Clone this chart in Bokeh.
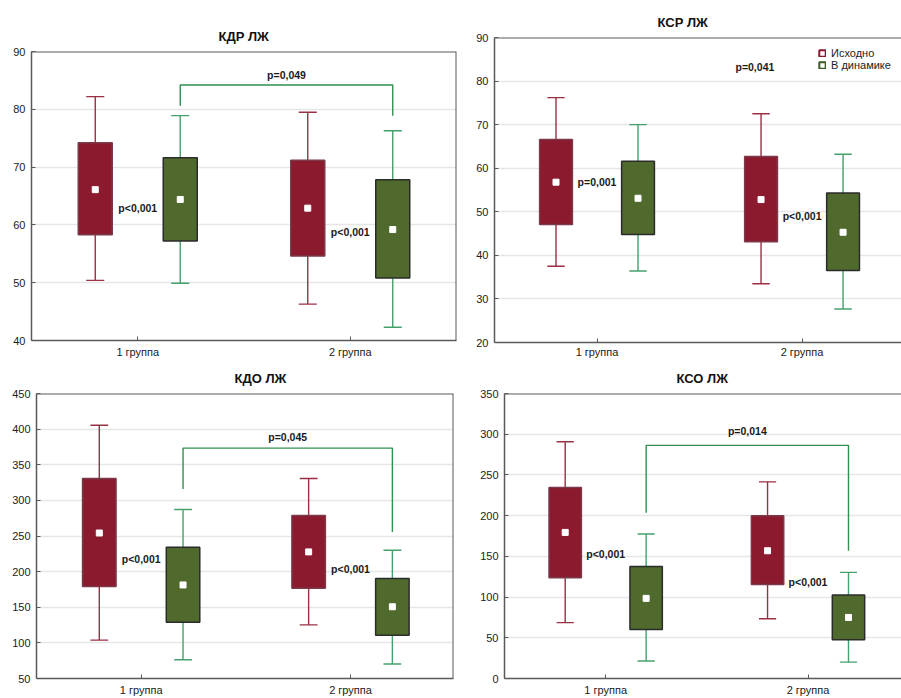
from bokeh.plotting import figure
from bokeh.models import Range1d, FixedTicker, Legend, LegendItem, Span
from bokeh.layouts import column, row
from bokeh.embed import file_html
from bokeh.resources import INLINE
from bokeh.core.properties import value

groups = ["1 группа", "2 группа"]
series = ["Исходно", "В динамике"]

# each group: [lower whisker, box low, mean, box high, upper whisker]
kdr_base = [[50.4, 58.3, 66.1, 74.2, 82.2], [46.3, 54.6, 62.9, 71.2, 79.5]]
kdr_dyn = [[49.9, 57.2, 64.4, 71.6, 78.9], [42.3, 50.8, 59.2, 67.8, 76.3]]
ksr_base = [[37.5, 47.1, 56.8, 66.6, 76.2], [33.5, 43.1, 52.8, 62.7, 72.5]]
ksr_dyn = [[36.4, 44.8, 53.1, 61.6, 70.0], [27.7, 36.5, 45.3, 54.3, 63.2]]
kdo_base = [[103.8, 179.0, 254.2, 330.7, 405.5], [125.2, 176.7, 227.7, 278.8, 330.7]]
kdo_dyn = [[76.4, 128.9, 181.3, 234.2, 287.1], [70.4, 110.8, 150.7, 190.2, 230.0]]
kso_base = [[68.6, 123.8, 179.4, 234.7, 290.7], [73.4, 115.3, 156.9, 200.0, 241.5]]
kso_dyn = [[21.4, 60.1, 98.4, 137.5, 177.4], [20.1, 47.6, 75.0, 102.4, 130.3]]

# within-group p-values and their heights
kdr_within = ["p<0,001", "p<0,001"]
kdr_within_y = [63.0, 58.7]
ksr_within = ["p=0,001", "p<0,001"]
ksr_within_y = [56.9, 49.0]
kdo_within = ["p<0,001", "p<0,001"]
kdo_within_y = [218, 204]
kso_within = ["p<0,001", "p<0,001"]
kso_within_y = [153.2, 118.2]

# between-group comparison: label, label height, bracket [left end, top, right end]
kdr_between = "p=0,049"
kdr_between_y = 86.0
kdr_bracket = [80.6, 84.2, 78.9]
ksr_between = "p=0,041"
ksr_between_y = 83.2
ksr_bracket = None
kdo_between = "p=0,045"
kdo_between_y = 389.2
kdo_bracket = [315.9, 373.4, 255.6]
kso_between = "p=0,014"
kso_between_y = 304.0
kso_bracket = [203.7, 286.3, 156.9]

FONT = "Liberation Sans"
RED = "#8B1A2F"
RED_LINE = "#7a3a4a"
RED_WHISK = "#9b2f44"
GREEN = "#506A2E"
GREEN_LINE = "#2b2b2b"
GREEN_WHISK = "#45a06c"
BRACKET = "#2f9050"
AXIS = "#5a5a5a"


def panel(title, base, dyn, yr, ystep, within, within_y, between, between_y, between_x,
          bracket, width, height, left, top, bottom, span, title_off,
          right_edge, x_standoff, legend=False):
    p = figure(width=width, height=height, x_range=Range1d(0, span), y_range=Range1d(*yr),
               output_backend="svg", toolbar_location=None,
               min_border_left=left, min_border_right=1 if right_edge else 0,
               min_border_top=top, min_border_bottom=bottom)
    p.frame_align = False
    p.background_fill_color = "white"
    p.border_fill_color = "white"
    p.xgrid.visible = False
    p.ygrid.grid_line_color = "#e6e6e6"
    p.ygrid.grid_line_width = 1.5
    p.outline_line_color = None

    p.title.text = title
    p.title.align = "left"
    p.title.offset = title_off
    p.title.standoff = 16
    p.title.text_font = FONT
    p.title.text_font_size = "13px"
    p.title.text_font_style = "bold"
    p.title.text_color = "#111111"

    gx = [i + 0.5 for i in range(len(groups))]
    yt = list(range(yr[0], yr[1] + 1, ystep))

    p.xaxis.ticker = FixedTicker(ticks=gx)
    p.xaxis.major_label_overrides = {g: groups[i] for i, g in enumerate(gx)}
    p.yaxis.ticker = FixedTicker(ticks=yt)
    for ax in (p.xaxis[0], p.yaxis[0]):
        ax.axis_line_color = AXIS
        ax.axis_line_width = 1.5
        ax.major_tick_line_color = AXIS
        ax.major_tick_in = 4
        ax.major_tick_out = 0
        ax.minor_tick_line_color = None
        ax.major_label_text_font = FONT
        ax.major_label_text_font_size = "11px"
        ax.major_label_text_color = "#222222"
    p.yaxis.major_label_standoff = 6
    p.xaxis.major_label_standoff = x_standoff

    p.add_layout(Span(location=yr[1], dimension="width", line_color=AXIS, line_width=2))
    if right_edge:
        p.add_layout(Span(location=span, dimension="height", line_color=AXIS, line_width=2))

    off = 0.2
    bw = 0.16
    cw = 0.085
    for data, dx, fill, line, wc in ((base, -off, RED, RED_LINE, RED_WHISK),
                                     (dyn, off, GREEN, GREEN_LINE, GREEN_WHISK)):
        xs = [g + dx for g in gx]
        lo = [d[0] for d in data]
        q1 = [d[1] for d in data]
        mn = [d[2] for d in data]
        q3 = [d[3] for d in data]
        hi = [d[4] for d in data]
        p.segment(x0=xs, y0=lo, x1=xs, y1=hi, line_color=wc, line_width=1.4)
        p.segment(x0=[x - cw / 2 for x in xs], y0=lo, x1=[x + cw / 2 for x in xs], y1=lo,
                  line_color=wc, line_width=1.4)
        p.segment(x0=[x - cw / 2 for x in xs], y0=hi, x1=[x + cw / 2 for x in xs], y1=hi,
                  line_color=wc, line_width=1.4)
        p.vbar(x=xs, width=bw, bottom=q1, top=q3, fill_color=fill, line_color=line,
               line_width=1.5)
        p.scatter(x=xs, y=mn, marker="square", size=6, fill_color="white",
                  line_color="white")

    p.text(x=gx, y=within_y, text=within, text_font=value(FONT), text_font_style="bold",
           text_font_size="10.5px", text_align="center", text_baseline="middle",
           text_color="#1a1a1a")
    p.text(x=[between_x], y=[between_y], text=[between], text_font=value(FONT),
           text_font_style="bold", text_font_size="10.5px", text_align="center",
           text_baseline="middle", text_color="#1a1a1a")
    if bracket is not None:
        xl = gx[0] + off
        xr = gx[1] + off
        p.line(x=[xl, xl, xr, xr], y=[bracket[0], bracket[1], bracket[1], bracket[2]],
               line_color=BRACKET, line_width=1.4)

    if legend:
        fh = height - top - bottom
        nan = float("nan")
        rs = []
        for c in (RED, "#3d5a26"):
            rs.append(p.quad(left=[nan], right=[nan], top=[nan], bottom=[nan],
                             fill_color="white", line_color=c, line_width=2))
        lg = Legend(items=[LegendItem(label=series[i], renderers=[rs[i]]) for i in range(2)],
                    location=(324, fh - 37), glyph_width=8, glyph_height=8, label_height=12,
                    label_standoff=5, spacing=0, padding=0, margin=0,
                    border_line_color=None, background_fill_alpha=0,
                    label_text_font=FONT, label_text_font_size="11px",
                    label_text_color="#222222")
        p.add_layout(lg)
    return p


p1 = panel("КДР ЛЖ", kdr_base, kdr_dyn, (40, 90), 10, kdr_within, kdr_within_y,
           kdr_between, kdr_between_y, 1.2, kdr_bracket,
           width=457, height=360, left=31, top=51, bottom=18, span=2.0,
           title_off=187, right_edge=True, x_standoff=5)
p2 = panel("КСР ЛЖ", ksr_base, ksr_dyn, (20, 90), 10, ksr_within, ksr_within_y,
           ksr_between, ksr_between_y, 1.27, ksr_bracket,
           width=444, height=360, left=37, top=37, bottom=15, span=1.985,
           title_off=163, right_edge=False, x_standoff=3, legend=True)
p3 = panel("КДО ЛЖ", kdo_base, kdo_dyn, (50, 450), 50, kdo_within, kdo_within_y,
           kdo_between, kdo_between_y, 1.2, kdo_bracket,
           width=454, height=338, left=36, top=33, bottom=17, span=1.992,
           title_off=198, right_edge=True, x_standoff=5)
p4 = panel("КСО ЛЖ", kso_base, kso_dyn, (0, 350), 50, kso_within, kso_within_y,
           kso_between, kso_between_y, 1.2, kso_bracket,
           width=447, height=338, left=50, top=32, bottom=17, span=1.962,
           title_off=172, right_edge=False, x_standoff=5)

layout = column(row(p1, p2), row(p3, p4))
open("out.html", "w").write(file_html(layout, INLINE))
